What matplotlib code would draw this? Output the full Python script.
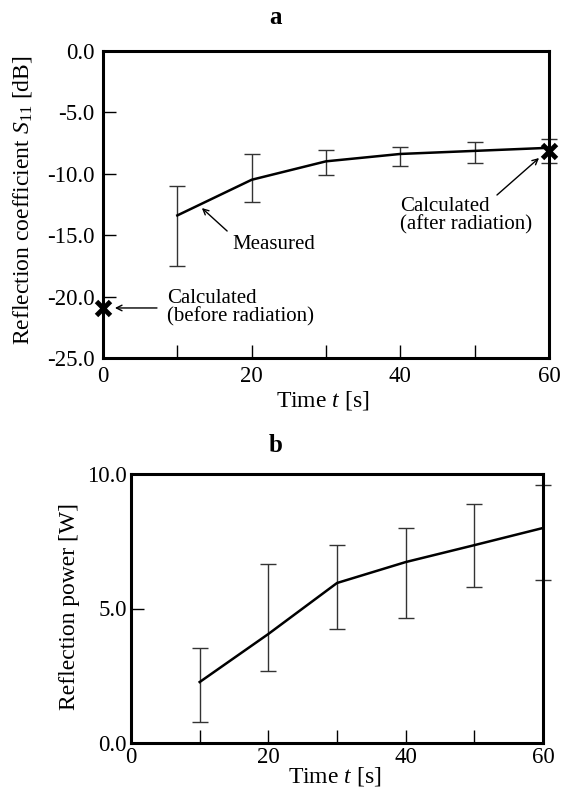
import matplotlib
matplotlib.use("Agg")
import matplotlib.pyplot as plt

plt.rcParams['font.family'] = ['Liberation Serif', 'DejaVu Serif']
plt.rcParams['mathtext.fontset'] = 'custom'
plt.rcParams['mathtext.rm'] = 'Liberation Serif'
plt.rcParams['mathtext.it'] = 'Liberation Serif:italic'
plt.rcParams['axes.unicode_minus'] = False

# ---- data: panel a (reflection coefficient S11, dB) ----
time_a = [10, 20, 30, 40, 50, 60]
s11_mean = [-13.4, -10.5, -9.0, -8.4, -8.15, -7.9]
s11_upper = [-11.0, -8.4, -8.1, -7.85, -7.45, -7.2]
s11_lower = [-17.5, -12.3, -10.1, -9.4, -9.15, -9.1]
calc_time = [0, 60]
calc_s11 = [-20.9, -8.2]
yticks_a = [0.0, -5.0, -10.0, -15.0, -20.0, -25.0]
ytick_labels_a = ["0.0", "-5.0", "-10.0", "-15.0", "-20.0", "-25.0"]

# ---- data: panel b (reflection power, W) ----
time_b = [10, 20, 30, 40, 50, 60]
power_mean = [2.26, 4.05, 5.95, 6.73, 7.36, 8.0]
power_upper = [3.53, 6.66, 7.37, 8.0, 8.89, 9.6]
power_lower = [0.77, 2.67, 4.24, 4.65, 5.8, 6.06]
yticks_b = [0.0, 5.0, 10.0]
ytick_labels_b = ["0.0", "5.0", "10.0"]

xticks = [0, 10, 20, 30, 40, 50, 60]
xtick_labels = ["0", "", "20", "", "40", "", "60"]

W, H = 562, 789
fig = plt.figure(figsize=(W / 100, H / 100), dpi=100)

def px_rect(l, t, r, b):
    return [l / W, 1 - b / H, (r - l) / W, (b - t) / H]

ax1 = fig.add_axes(px_rect(103, 50.7, 549, 358))
ax2 = fig.add_axes(px_rect(131, 474.3, 543, 742.7))

fs_ann = 15
fs_tick = 16.5
fs_lab = 17
fs_title = 18

def style(ax, pad):
    for sp in ax.spines.values():
        sp.set_linewidth(2.2)
    ax.tick_params(direction='in', length=9.5, width=1.0, labelsize=fs_tick, pad=pad,
                   top=False, right=False)

# ---------- panel a ----------
err_lo = [m - l for m, l in zip(s11_mean, s11_lower)]
err_hi = [u - m for m, u in zip(s11_mean, s11_upper)]
ax1.errorbar(time_a, s11_mean, yerr=[err_lo, err_hi], fmt='none',
             ecolor='#333333', elinewidth=1.0, capsize=5.5, capthick=1.0,
             clip_on=False, zorder=2)
ax1.plot(time_a, s11_mean, color='black', lw=1.8, zorder=3)
ax1.plot(calc_time, calc_s11, linestyle='none', marker='x', color='black',
         ms=10, mew=3.5, clip_on=False, zorder=5)
ax1.set_xlim(0, 60)
ax1.set_ylim(-25, 0)
ax1.set_xticks(xticks)
ax1.set_xticklabels(xtick_labels)
ax1.set_yticks(yticks_a)
ax1.set_yticklabels(ytick_labels_a)
style(ax1, 6)

arrow = dict(arrowstyle='->', lw=1.0, color='black', shrinkA=0, shrinkB=0)
ax1.annotate('', xy=(13.3, -12.8), xytext=(16.7, -14.67), arrowprops=arrow)
ax1.text(17.4, -15.8, 'Measured', fontsize=fs_ann, ha='left', va='center')
ax1.annotate('', xy=(58.66, -8.73), xytext=(53.0, -11.74), arrowprops=arrow)
ax1.text(40.0, -13.4, 'Calculated\n(after radiation)', fontsize=fs_ann,
         ha='left', va='center', linespacing=0.95)
ax1.annotate('', xy=(1.6, -20.93), xytext=(7.26, -20.93), arrowprops=arrow)
ax1.text(8.6, -20.9, 'Calculated\n(before radiation)', fontsize=fs_ann,
         ha='left', va='center', linespacing=0.95)

# ---------- panel b ----------
err_lo_b = [m - l for m, l in zip(power_mean, power_lower)]
err_hi_b = [u - m for m, u in zip(power_mean, power_upper)]
ax2.errorbar(time_b, power_mean, yerr=[err_lo_b, err_hi_b], fmt='none',
             ecolor='#333333', elinewidth=1.0, capsize=5.5, capthick=1.0,
             clip_on=False, zorder=2)
ax2.plot(time_b, power_mean, color='black', lw=1.8, zorder=3)
ax2.set_xlim(0, 60)
ax2.set_ylim(0, 10)
ax2.set_xticks(xticks)
ax2.set_xticklabels(xtick_labels)
ax2.set_yticks(yticks_b)
ax2.set_yticklabels(ytick_labels_b)
style(ax2, 3)

# ---------- labels / titles ----------
def ftext(x, y, s, **kw):
    fig.text(x / W, 1 - y / H, s, **kw)

ftext(275, 18, 'a', fontsize=fs_title, fontweight='bold', ha='center', va='center')
ftext(276, 445, 'b', fontsize=fs_title, fontweight='bold', ha='center', va='center')
ftext(23, 200, r'Reflection coefficient $\mathit{S}_{11}$ [dB]', fontsize=fs_lab,
      rotation=90, ha='center', va='center')
ftext(70, 607, 'Reflection power [W]', fontsize=fs_lab, rotation=90,
      ha='center', va='center')
ftext(323, 400, r'Time $t$ [s]', fontsize=fs_lab, ha='center', va='center')
ftext(335, 777, r'Time $t$ [s]', fontsize=fs_lab, ha='center', va='center')

fig.savefig('out.png', dpi=100)
